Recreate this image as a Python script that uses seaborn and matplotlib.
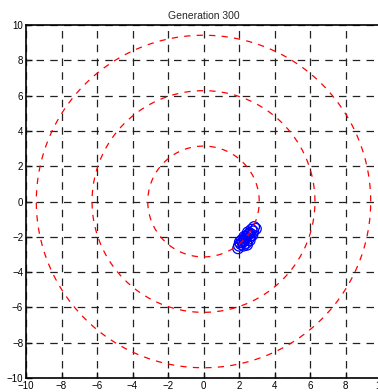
import numpy as np
import pandas as pd
import matplotlib
matplotlib.use("Agg")
import matplotlib.pyplot as plt
import seaborn as sns

title = "Generation 300"
xs = [2.85, 2.95, 2.7, 2.6, 2.5, 2.4, 2.55, 2.3, 2.2, 2.4, 2.1, 2.0, 2.25, 1.95, 2.6, 2.75, 2.35, 2.15,
      2.65, 2.45, 2.05, 2.3, 2.8, 2.5]
ys = [-1.45, -1.55, -1.6, -1.8, -1.9, -2.0, -2.1, -2.2, -2.3, -2.35, -2.4, -2.5, -2.5, -2.65, -2.2, -1.9, -2.1, -2.2,
      -1.95, -2.45, -2.3, -2.0, -1.7, -1.75]
radii = [3.14, 6.28, 9.42]
ticks = [-10, -8, -6, -4, -2, 0, 2, 4, 6, 8, 10]

sns.set_style("white")
plt.rcParams['font.family'] = ['Liberation Sans', 'DejaVu Sans']

fig = plt.figure(figsize=(3.78, 3.92), dpi=100)
ax = fig.add_axes([26/378, 14/392, 355/378, 353/392])

for t in ticks:
    ax.axvline(t, color='#222222', lw=0.9, ls=(3, (6, 5)), zorder=1)
    ax.axhline(t, color='#222222', lw=0.9, ls=(3, (6, 5)), zorder=1)

df = pd.DataFrame({'x': xs, 'y': ys})
sns.scatterplot(data=df, x='x', y='y', ax=ax, marker='o', s=60,
                facecolors='none', edgecolor='blue', linewidth=0.9, zorder=3)

theta = np.linspace(0, 2*np.pi, 400)
for r in radii:
    ax.plot(r*np.cos(theta), r*np.sin(theta), color='red', lw=0.9,
            ls=(0, (5, 5)), zorder=4)

ax.set_xlim(-10, 10)
ax.set_ylim(-10, 10)
ax.set_xticks(ticks)
ax.set_yticks(ticks)
ax.set_xlabel('')
ax.set_ylabel('')
ax.tick_params(direction='in', length=4, width=1, labelsize=7, pad=2,
               top=False, right=False, bottom=True, left=True, colors='black')
for s in ax.spines.values():
    s.set_color('black')
    s.set_linewidth(1.2)
ax.set_title(title, fontsize=7.5, pad=4)

fig.savefig('out.png', dpi=100)
